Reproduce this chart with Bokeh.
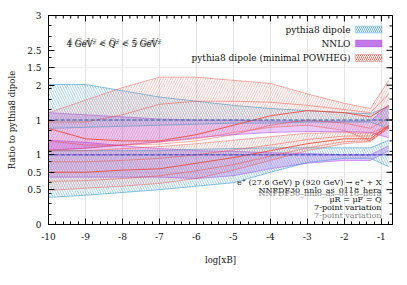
import math
from bokeh.plotting import figure
from bokeh.models import (Range1d, FixedTicker, Label, BoxAnnotation)
from bokeh.embed import file_html
from bokeh.resources import INLINE

# ---- data -------------------------------------------------------------
x = [-10, -9, -8, -7, -6, -5, -4, -3, -2, -1.3, -0.8]

# overlay A (left scale 0..2)
blueA_hi = [1.34, 1.34, 1.28, 1.22, 1.18, 1.14, 1.11, 1.09, 1.07, 1.06, 1.13]
blueA_lo = [0.92, 0.93, 0.94, 0.95, 0.96, 0.97, 0.97, 0.98, 0.98, 0.98, 0.92]
nnloA_hi = [1.07, 1.05, 1.03, 1.01, 1.00, 1.00, 0.99, 0.99, 0.99, 0.99, 1.14]
nnloA_lo = [0.71, 0.73, 0.76, 0.79, 0.83, 0.86, 0.88, 0.89, 0.89, 0.88, 0.83]
redA_hi = [1.07, 1.19, 1.31, 1.41, 1.41, 1.38, 1.35, 1.25, 1.16, 1.11, 1.38]
redA_lo = [0.71, 0.73, 0.76, 0.79, 0.82, 0.88, 0.93, 0.95, 0.90, 0.80, 0.93]
redA_c = [0.92, 0.82, 0.80, 0.80, 0.86, 0.95, 1.04, 1.09, 1.07, 1.03, 1.14]
redA_v1 = [0.98, 0.98, 1.05, 1.15, 1.18, 1.18, 1.17, 1.14, 1.10, 1.07, 1.25]
redA_v2 = [0.80, 0.76, 0.76, 0.77, 0.80, 0.86, 0.95, 1.00, 0.97, 0.92, 1.02]

# overlay B (scale 0..3)
blueB_hi = [1.06, 1.06, 1.06, 1.06, 1.08, 1.09, 1.10, 1.10, 1.10, 1.10, 1.21]
blueB_lo = [0.39, 0.42, 0.46, 0.50, 0.55, 0.60, 0.75, 0.89, 0.95, 0.95, 0.83]
nnloB_hi = [1.21, 1.18, 1.13, 1.09, 1.06, 1.05, 1.03, 1.02, 1.00, 1.00, 1.13]
nnloB_lo = [0.68, 0.68, 0.68, 0.68, 0.66, 0.70, 0.80, 0.88, 0.92, 0.92, 1.06]
redB_hi = [1.06, 1.06, 1.09, 1.12, 1.16, 1.21, 1.26, 1.31, 1.32, 1.31, 1.42]
redB_lo = [0.49, 0.52, 0.55, 0.59, 0.66, 0.78, 0.92, 1.06, 1.16, 1.19, 1.38]
redB_c = [0.75, 0.75, 0.78, 0.80, 0.88, 0.96, 1.06, 1.16, 1.23, 1.23, 1.42]
redB_v1 = [0.90, 0.90, 0.92, 0.95, 1.00, 1.07, 1.14, 1.22, 1.27, 1.27, 1.40]
redB_v2 = [0.62, 0.63, 0.66, 0.70, 0.77, 0.86, 0.98, 1.10, 1.19, 1.20, 1.40]

x_ticks = [-10, -9, -8, -7, -6, -5, -4, -3, -2, -1]
x_tick_text = ["-10", "-9", "-8", "-7", "-6", "-5", "-4", "-3", "-2", "-1"]
x_minor = [v / 5 for v in range(-50, -3)]
y_tick_vals = [0, 1/3, 0.5, 2/3, 1, 4/3, 1.5, 5/3, 2]
y_tick_text = ["0", "0.5", "0.5", "1", "1", "2", "1.5", "2.5", "3"]
y_minor = [v / 10 for v in range(0, 21)]

legend_names = ["pythia8 dipole", "NNLO", "pythia8 dipole (minimal POWHEG)"]
info_lines = ["e\u207a (27.6 GeV) p (920 GeV) \u2192 e\u207a + X",
              "NNPDF30_nnlo_as_0118_hera",
              "\u03bcR = \u03bcF = Q",
              "7-point variation"]
q2_text = "4 GeV\u00b2 < Q\u00b2 < 5 GeV\u00b2"

# ---- styles -------------------------------------------------------------
FONT = "DejaVu Serif"
BLUE = "#3f9fd6"
RED = "#ee4a3c"
PURPLE = "#a020f0"

X0, X1 = -10, -0.7
FL, FR, FT, FB = 48, 392, 15, 224
W, H = 407, 285
p = figure(width=W, height=H, x_range=Range1d(X0, X1), y_range=Range1d(0, 2),
           output_backend="svg", toolbar_location=None,
           min_border_left=FL, min_border_right=W - FR, min_border_top=FT, min_border_bottom=H - FB)
p.extra_y_ranges = {"b": Range1d(0, 3)}
p.background_fill_color = "white"
p.border_fill_color = "white"
p.outline_line_color = "black"
p.outline_line_width = 1

def dx(px):
    return X0 + (px - FL) / (FR - FL) * (X1 - X0)
def dy(py):
    return (FB - py) / (FB - FT) * 2.0

def hatched(xs, lo, hi, color, pattern, rng="default", alpha=0.8):
    p.varea(x=xs, y1=lo, y2=hi, fill_alpha=0, hatch_pattern=pattern, hatch_color=color,
            hatch_alpha=alpha, hatch_scale=5, hatch_weight=0.6, y_range_name=rng)
    p.line(xs, hi, color=color, line_width=0.8, alpha=alpha, y_range_name=rng)
    p.line(xs, lo, color=color, line_width=0.8, alpha=alpha, y_range_name=rng)

# NNLO filled bands
for lo, hi, rng in [(nnloA_lo, nnloA_hi, "default"), (nnloB_lo, nnloB_hi, "b")]:
    p.varea(x=x, y1=lo, y2=hi, fill_color=PURPLE, fill_alpha=0.24, y_range_name=rng)
    p.line(x, hi, color=PURPLE, line_width=0.8, alpha=0.55, y_range_name=rng)
    p.line(x, lo, color=PURPLE, line_width=0.8, alpha=0.55, y_range_name=rng)

# pythia8 dipole bands
hatched(x, blueA_lo, blueA_hi, BLUE, "\\")
hatched(x, blueB_lo, blueB_hi, BLUE, "\\", "b")
# minimal POWHEG bands
hatched(x, redA_lo, redA_hi, RED, "/", alpha=0.55)
hatched(x, redB_lo, redB_hi, RED, "/", "b", alpha=0.55)
for ys in [redA_v1, redA_v2]:
    p.line(x, ys, color=RED, line_width=0.8, alpha=0.6)
for ys in [redB_v1, redB_v2]:
    p.line(x, ys, color=RED, line_width=0.8, alpha=0.6, y_range_name="b")
p.line(x, redA_c, color=RED, line_width=1.0, alpha=0.9)
p.line(x, redB_c, color=RED, line_width=1.0, alpha=0.9, y_range_name="b")

# reference lines at ratio 1
p.line([X0, X1], [1, 1], color="#1f5fa8", line_width=1, line_dash="4 2")
p.line([X0, X1], [1, 1], color=PURPLE, line_width=1, alpha=0.6, y_range_name="b")
p.line([X0, X1], [1, 1], color="#1f5fa8", line_width=1, line_dash="4 2", y_range_name="b")

# ---- axes -------------------------------------------------------------
p.xaxis.ticker = FixedTicker(ticks=x_ticks, minor_ticks=x_minor)
p.xaxis.major_label_overrides = {v: t for v, t in zip(x_ticks, x_tick_text)}
p.yaxis.ticker = FixedTicker(ticks=y_tick_vals, minor_ticks=y_minor)
p.yaxis.major_label_overrides = {v: t for v, t in zip(y_tick_vals, y_tick_text)}
p.xaxis.axis_label = "log[xB]"
p.yaxis.axis_label = "Ratio to pythia8 dipole"
for ax in [p.xaxis[0], p.yaxis[0]]:
    ax.major_tick_in = 6
    ax.major_tick_out = 0
    ax.minor_tick_in = 3
    ax.minor_tick_out = 0
    ax.axis_line_color = "black"
    ax.major_tick_line_color = "black"
    ax.minor_tick_line_color = "black"
    ax.major_label_text_font = FONT
    ax.major_label_text_font_size = "9px"
    ax.major_label_text_color = "#111111"
    ax.axis_label_text_font = FONT
    ax.axis_label_text_font_size = "8.5px"
    ax.axis_label_text_font_style = "normal"
    ax.axis_label_text_color = "#111111"
p.xaxis.major_label_standoff = 8
p.xaxis.axis_label_standoff = 12
p.yaxis.major_label_standoff = 7
p.yaxis.axis_label_standoff = 7

# mirrored inward ticks on top and right edges
p.ray(x=x_ticks, y=[2] * len(x_ticks), length=6, length_units="screen", angle=-math.pi / 2,
      line_color="black", line_width=1)
p.ray(x=x_minor, y=[2] * len(x_minor), length=3, length_units="screen", angle=-math.pi / 2,
      line_color="black", line_width=1)
p.ray(x=[X1] * len(y_tick_vals), y=y_tick_vals, length=6, length_units="screen", angle=math.pi,
      line_color="black", line_width=1)
p.ray(x=[X1] * len(y_minor), y=y_minor, length=3, length_units="screen", angle=math.pi,
      line_color="black", line_width=1)

p.xgrid.ticker = FixedTicker(ticks=x_ticks)
p.xgrid.grid_line_color = "#e4e4e4"
p.ygrid.ticker = FixedTicker(ticks=[0.5, 1, 1.5])
p.ygrid.grid_line_color = "#eeeeee"

# ---- legend (text right aligned, swatch right) -------------------------
rows_py = [29, 43, 57.5]
sw = [dict(fill_alpha=0, hatch_pattern="\\", hatch_color=BLUE, hatch_scale=4, hatch_weight=0.8, line_color=BLUE),
      dict(fill_color="#c27ae8", fill_alpha=1, line_color="#9b2fd6"),
      dict(fill_alpha=0, hatch_pattern="/", hatch_color=RED, hatch_scale=4, hatch_weight=0.8, line_color=RED)]
for name, py, style in zip(legend_names, rows_py, sw):
    p.add_layout(Label(x=dx(350), y=dy(py), text=name, text_align="right", text_baseline="middle",
                       text_font=FONT, text_font_size="9px", text_color="#111111"))
    p.add_layout(BoxAnnotation(left=dx(355), right=dx(381.5), top=dy(py - 3.5), bottom=dy(py + 3.5),
                               line_width=1.2, **style))

# ---- text annotations --------------------------------------------------
p.add_layout(Label(x=dx(67), y=dy(41), text=q2_text, text_align="left", text_baseline="middle",
                   text_font=FONT, text_font_size="8.5px", text_color="#888888"))
p.add_layout(Label(x=dx(66), y=dy(43), text=q2_text, text_align="left", text_baseline="middle",
                   text_font=FONT, text_font_size="8.5px", text_color="#111111"))

for line, py in zip(info_lines, [182, 190, 198.5, 206.5]):
    p.add_layout(Label(x=dx(381), y=dy(py), text=line, text_align="right", text_baseline="middle",
                       text_font=FONT, text_font_size="8px", text_color="#111111"))
p.add_layout(Label(x=dx(381), y=dy(192.5), text=info_lines[1], text_align="right", text_baseline="middle",
                   text_font=FONT, text_font_size="8px", text_color="#888888"))
p.add_layout(Label(x=dx(381), y=dy(214.5), text=info_lines[3], text_align="right", text_baseline="middle",
                   text_font=FONT, text_font_size="8px", text_color="#888888"))

open("out.html", "w").write(file_html(p, INLINE))
